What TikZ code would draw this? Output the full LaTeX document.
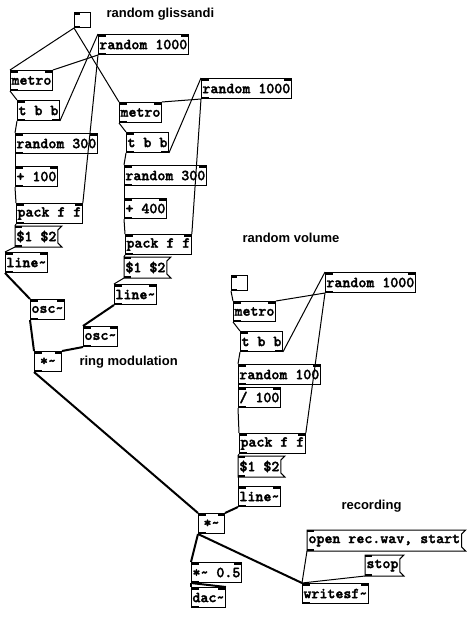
\documentclass[tikz,border=0pt]{standalone}
\usepackage{fontspec}
\setsansfont{Liberation Sans}
\newfontfamily\pdfont{lmmonolt10-bold.otf}[FakeBold=2]
\usepackage{tikz}
\tikzset{
  pdbox/.style={draw, line width=1pt, anchor=north west, inner xsep=1pt, inner ysep=0pt,
    minimum height=20pt, font=\pdfont\fontsize{15.2}{16}\selectfont},
  obj/.style={pdbox, path picture={
    \fill (path picture bounding box.north west) rectangle ++(7pt,-2pt);
    \fill (path picture bounding box.north east) rectangle ++(-7pt,-2pt);
    \fill (path picture bounding box.south west) rectangle ++(7pt,2pt);}},
  trig/.style={pdbox, path picture={
    \fill (path picture bounding box.north west) rectangle ++(7pt,-2pt);
    \fill (path picture bounding box.south west) rectangle ++(7pt,2pt);
    \fill (path picture bounding box.south east) rectangle ++(-7pt,2pt);}},
  bng/.style={pdbox, minimum width=16pt, minimum height=15pt, path picture={
    \fill (path picture bounding box.north west) rectangle ++(5pt,-2pt);
    \fill (path picture bounding box.south west) rectangle ++(5pt,2pt);}},
  msg/.style={pdbox, draw=none},
  lbl/.style={anchor=west, font=\fontsize{13}{15}\selectfont\sffamily\bfseries},
  ctl/.style={line width=1pt},
  sig/.style={line width=2pt}
}
\begin{document}
\begin{tikzpicture}[x=1pt,y=-1pt]
\useasboundingbox (0,0) rectangle (475,619);
% comments
\node[lbl] (glissLbl) at (103,14) {random glissandi};
\node[lbl] (ringLbl) at (76,362) {ring modulation};
\node[lbl] (volLbl) at (239,238) {random volume};
\node[lbl] (recLbl) at (338,506) {recording};

% left voice
\node[bng] (bangA) at (74,12) {};
\node[obj] (rndA) at (98,34) {random 1000};
\node[obj] (metroA) at (10,70) {metro};
\node[trig] (tbbA) at (17,100) {t b b};
\node[obj] (rThreeA) at (15,133) {random 300};
\node[obj] (addA) at (15,166) {+ 100};
\node[obj] (packA) at (16,203) {pack f f};
\node[msg] (msgA) at (15,226) {\$1 \$2};
\node[obj] (lineA) at (5,252) {line\textasciitilde};
\node[obj] (oscA) at (30,299) {osc\textasciitilde};

% right voice
\node[obj] (rndB) at (201,78) {random 1000};
\node[obj] (metroB) at (119,102) {metro};
\node[trig] (tbbB) at (126,132) {t b b};
\node[obj] (rThreeB) at (124,165) {random 300};
\node[obj] (addB) at (124,198) {+ 400};
\node[obj] (packB) at (125,234) {pack f f};
\node[msg] (msgB) at (124,257) {\$1 \$2};
\node[obj] (lineB) at (114,284) {line\textasciitilde};
\node[obj] (oscB) at (83,326) {osc\textasciitilde};
\node[obj, minimum width=27pt] (ringMul) at (34,351) {*\textasciitilde};

% volume
\node[bng] (bangB) at (231,275) {};
\node[obj] (rndC) at (325,272) {random 1000};
\node[obj] (metroC) at (233,301) {metro};
\node[trig] (tbbC) at (240,331) {t b b};
\node[obj] (rHund) at (238,364) {random 100};
\node[obj] (divHund) at (238,387) {/ 100};
\node[obj] (packC) at (239,433) {pack f f};
\node[msg] (msgC) at (238,456) {\$1 \$2};
\node[obj] (lineC) at (238,486) {line\textasciitilde};
\node[obj, minimum width=26pt] (volMul) at (198,513) {*\textasciitilde};

% output
\node[obj] (outMul) at (191,562) {*\textasciitilde{} 0.5};
\node[obj] (dac) at (191,587) {dac\textasciitilde};
\node[msg] (openMsg) at (307,530) {open rec.wav, start};
\node[msg] (stopMsg) at (365,555) {stop};
\node[obj] (wsf) at (302,583) {writesf\textasciitilde};

\foreach \m in {msgA,msgB,msgC,openMsg,stopMsg}{
  \draw[line width=1pt] (\m.south west) -- (\m.north west) -- ([xshift=4pt]\m.north east)
    -- ([yshift=-4pt]\m.north east) -- ([yshift=4pt]\m.south east) -- ([xshift=4pt]\m.south east) -- cycle;
  \fill (\m.north west) rectangle ++(7pt,-2pt);
  \fill (\m.south west) rectangle ++(7pt,2pt);
}

% control
\draw[ctl] (bangA.south west) -- (metroA.north west);
\draw[ctl] (bangA.south west) -- (metroB.north west);
\draw[ctl] (rndA.south west) -- (metroA.north east);
\draw[ctl] (tbbA.south east) -- (rndA.north west);
\draw[ctl] (metroA.south west) -- (tbbA.north west);
\draw[ctl] (tbbA.south west) -- (rThreeA.north west);
\draw[ctl] (rThreeA.south west) -- (addA.north west);
\draw[ctl] (addA.south west) -- (packA.north west);
\draw[ctl] (rndA.south west) -- (packA.north east);
\draw[ctl] (packA.south west) -- (msgA.north west);
\draw[ctl] (msgA.south west) -- (lineA.north west);

\draw[ctl] (rndB.south west) -- (metroB.north east);
\draw[ctl] (tbbB.south east) -- (rndB.north west);
\draw[ctl] (metroB.south west) -- (tbbB.north west);
\draw[ctl] (tbbB.south west) -- (rThreeB.north west);
\draw[ctl] (rThreeB.south west) -- (addB.north west);
\draw[ctl] (addB.south west) -- (packB.north west);
\draw[ctl] (rndB.south west) -- (packB.north east);
\draw[ctl] (packB.south west) -- (msgB.north west);
\draw[ctl] (msgB.south west) -- (lineB.north west);

\draw[ctl] (bangB.south west) -- (metroC.north west);
\draw[ctl] (rndC.south west) -- (metroC.north east);
\draw[ctl] (tbbC.south east) -- (rndC.north west);
\draw[ctl] (metroC.south west) -- (tbbC.north west);
\draw[ctl] (tbbC.south west) -- (rHund.north west);
\draw[ctl] (rHund.south west) -- (divHund.north west);
\draw[ctl] (divHund.south west) -- (packC.north west);
\draw[ctl] (rndC.south west) -- (packC.north east);
\draw[ctl] (packC.south west) -- (msgC.north west);
\draw[ctl] (msgC.south west) -- (lineC.north west);

\draw[ctl] (openMsg.south west) -- (wsf.north west);
\draw[ctl] (stopMsg.south west) -- (wsf.north west);

% signal
\draw[sig] (lineA.south west) -- (oscA.north west);
\draw[sig] (oscA.south west) -- (ringMul.north west);
\draw[sig] (lineB.south west) -- (oscB.north west);
\draw[sig] (oscB.south west) -- (ringMul.north east);
\draw[sig] (ringMul.south west) -- (volMul.north west);
\draw[sig] (lineC.south west) -- (volMul.north east);
\draw[sig] (volMul.south west) -- (outMul.north west);
\draw[sig] (volMul.south west) -- (wsf.north west);
\draw[sig] (outMul.south west) -- (dac.north west);
\draw[sig] (outMul.south west) -- (dac.north east);
\end{tikzpicture}
\end{document}
